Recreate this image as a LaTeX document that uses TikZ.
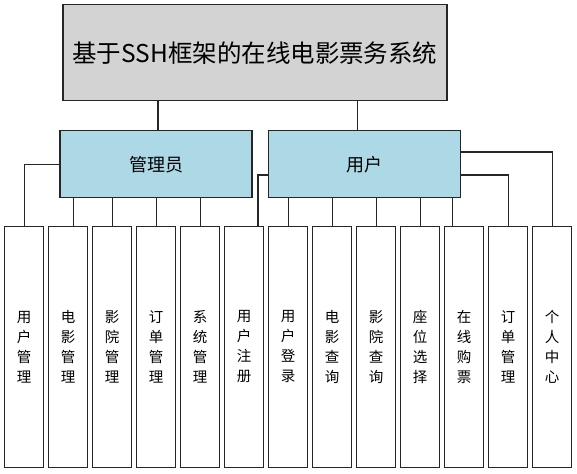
\documentclass[tikz,border=0pt]{standalone}
\usepackage{fontspec}
\setmainfont{Noto Sans CJK SC}
\begin{document}
\begin{tikzpicture}[x=1pt,y=-1pt,
  box/.style={draw=black!85,line width=1.3pt,inner sep=0pt,outer sep=0pt,align=center},
  topbox/.style={box,fill={rgb,255:red,211;green,211;blue,211},minimum width=384pt,minimum height=96pt,font=\fontsize{24.5}{29}\selectfont},
  midbox/.style={box,fill={rgb,255:red,173;green,216;blue,230},minimum width=192pt,minimum height=67pt,font=\fontsize{18}{22}\selectfont},
  leaf/.style={box,fill=white,minimum width=39pt,minimum height=240.6pt,font=\fontsize{14.5}{20}\selectfont},
  link/.style={draw=black!85,line width=1.3pt}]
\useasboundingbox (0,0) rectangle (577,473);
\node[topbox] (top) at (254.9,52.7) {基于SSH框架的在线电影票务系统};
\node[midbox] (admin) at (156,164.2) {管理员};
\node[midbox] (user) at (364.3,164.2) {用户};
\node[leaf] (b0) at (24.2,347) {用\\户\\管\\理};
\node[leaf] (b1) at (68.2,347) {电\\影\\管\\理};
\node[leaf] (b2) at (112.2,347) {影\\院\\管\\理};
\node[leaf] (b3) at (156.2,347) {订\\单\\管\\理};
\node[leaf] (b4) at (200.2,347) {系\\统\\管\\理};
\node[leaf] (b5) at (244.2,347) {用\\户\\注\\册};
\node[leaf] (b6) at (288.2,347) {用\\户\\登\\录};
\node[leaf] (b7) at (332.2,347) {电\\影\\查\\询};
\node[leaf] (b8) at (376.2,347) {影\\院\\查\\询};
\node[leaf] (b9) at (420.2,347) {座\\位\\选\\择};
\node[leaf] (b10) at (464.2,347) {在\\线\\购\\票};
\node[leaf] (b11) at (508.2,347) {订\\单\\管\\理};
\node[leaf] (b12) at (552.2,347) {个\\人\\中\\心};
% top to middle
\draw[link] ([xshift=2pt]admin.north |- top.south) -- ([xshift=2pt]admin.north);
\draw[link] ([xshift=-6.6pt]user.north |- top.south) -- ([xshift=-6.6pt]user.north);
% admin children
\draw[link] (admin.west) -| (b0.north);
\draw[link] ([xshift=5.5pt]b1.north |- admin.south) -- ([xshift=5.5pt]b1.north);
\draw[link] (b2.north |- admin.south) -- (b2.north);
\draw[link] (b3.north |- admin.south) -- (b3.north);
\draw[link] (b4.north |- admin.south) -- (b4.north);
% user children
\draw[link] ([yshift=-10.8pt]user.west) -| ([xshift=13.8pt]b5.north);
\draw[link] (b6.north |- user.south) -- (b6.north);
\draw[link] (b7.north |- user.south) -- (b7.north);
\draw[link] (b8.north |- user.south) -- (b8.north);
\draw[link] (b9.north |- user.south) -- (b9.north);
\draw[link] ([xshift=-11.5pt]b10.north |- user.south) -- ([xshift=-11.5pt]b10.north);
\draw[link] ([yshift=-10.8pt]user.east) -| (b11.north);
\draw[link] ([yshift=12.2pt]user.east) -| (b12.north);
\end{tikzpicture}
\end{document}
